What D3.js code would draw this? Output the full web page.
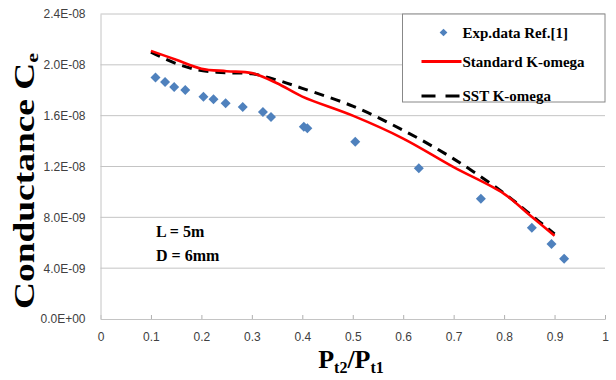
<!DOCTYPE html>
<html lang="en">
<head>
<meta charset="UTF-8">
<title>Conductance</title>
<script src="https://d3js.org/d3.v7.min.js"></script>
<style>
  body { margin: 0; background: #fff; }
  .tick text { font-family: "Liberation Sans", Arial, sans-serif; font-size: 12px; fill: #404040; }
  .lbl { font-family: "Liberation Serif", "Times New Roman", serif; font-weight: bold; fill: #000; }
</style>
</head>
<body>
<div id="chart"></div>
<script>
// experimental points
var expX = [0.109, 0.128, 0.146, 0.168, 0.204, 0.224, 0.248, 0.282, 0.322, 0.338, 0.403, 0.410, 0.505, 0.631, 0.754, 0.855, 0.894, 0.919];
var expY = [1.90e-8, 1.865e-8, 1.826e-8, 1.802e-8, 1.749e-8, 1.729e-8, 1.698e-8, 1.668e-8, 1.629e-8, 1.590e-8, 1.513e-8, 1.501e-8, 1.395e-8, 1.186e-8, 9.47e-9, 7.18e-9, 5.90e-9, 4.75e-9];

// simulation curves
var simX = [0.1, 0.15, 0.2, 0.25, 0.3, 0.35, 0.4, 0.5, 0.6, 0.7, 0.8, 0.85, 0.9];
var stdY = [2.11e-8, 2.04e-8, 1.97e-8, 1.95e-8, 1.935e-8, 1.855e-8, 1.75e-8, 1.60e-8, 1.42e-8, 1.195e-8, 9.85e-9, 8.2e-9, 6.55e-9];
var sstY = [2.10e-8, 2.01e-8, 1.955e-8, 1.938e-8, 1.93e-8, 1.88e-8, 1.815e-8, 1.675e-8, 1.485e-8, 1.26e-8, 9.9e-9, 8.3e-9, 6.7e-9];

var xTicks = [0, 0.1, 0.2, 0.3, 0.4, 0.5, 0.6, 0.7, 0.8, 0.9, 1];
var yTicks = [0, 4e-9, 8e-9, 1.2e-8, 1.6e-8, 2.0e-8, 2.4e-8];
var yTickLabels = ["0.0E+00", "4.0E-09", "8.0E-09", "1.2E-08", "1.6E-08", "2.0E-08", "2.4E-08"];

var legendNames = ["Exp.data Ref.[1]", "Standard K-omega", "SST K-omega"];

var W = 616, H = 380;
var margin = {top: 14, right: 11, bottom: 61, left: 100.5};
var width = W - margin.left - margin.right,
    height = H - margin.top - margin.bottom;

var svg = d3.select("#chart").append("svg")
    .attr("width", W).attr("height", H);
var g = svg.append("g")
    .attr("transform", `translate(${margin.left},${margin.top})`);

var x = d3.scaleLinear().domain([0, 1]).range([0, width]);
var y = d3.scaleLinear().domain([0, 2.4e-8]).range([height, 0]);

// gridlines
g.append("g").selectAll("line")
  .data(yTicks.slice(1))
  .join("line")
    .attr("x1", 0).attr("x2", width)
    .attr("y1", d => y(d)).attr("y2", d => y(d))
    .attr("stroke", "#c4c4c4").attr("stroke-width", 1);

// y axis
var yAxis = g.append("g")
  .call(d3.axisLeft(y).tickValues(yTicks).tickSize(0).tickPadding(15)
    .tickFormat((d, i) => yTickLabels[i]));
yAxis.select(".domain").attr("stroke", "#c4c4c4");

// x axis
var xAxis = g.append("g")
  .attr("transform", `translate(0,${height})`)
  .call(d3.axisBottom(x).tickValues(xTicks).tickSize(-4).tickPadding(13)
    .tickFormat(d3.format("")));
xAxis.select(".domain").attr("stroke", "#c4c4c4");
xAxis.selectAll(".tick line").attr("stroke", "#b0b0b0");
xAxis.select(".tick:first-of-type line").remove();

// curves
var line = d3.line()
  .x(d => x(d[0])).y(d => y(d[1]))
  .curve(d3.curveCatmullRom.alpha(0.5));

g.append("path")
  .datum(simX.map((v, i) => [v, sstY[i]]))
  .attr("fill", "none")
  .attr("stroke", "#000")
  .attr("stroke-width", 3)
  .attr("stroke-dasharray", "10,7")
  .attr("d", line);

g.append("path")
  .datum(simX.map((v, i) => [v, stdY[i]]))
  .attr("fill", "none")
  .attr("stroke", "#ff0000")
  .attr("stroke-width", 2.6)
  .attr("d", line);

// experimental diamonds
var diamond = d3.symbol().type(d3.symbolSquare).size(50);
g.append("g").selectAll("path")
  .data(expX.map((v, i) => [v, expY[i]]))
  .join("path")
    .attr("d", diamond)
    .attr("transform", d => `translate(${x(d[0])},${y(d[1])}) rotate(45)`)
    .attr("fill", "#4f81bd");

// annotation
g.append("text").attr("class", "lbl")
  .attr("x", x(0.11)).attr("y", y(6.45e-9))
  .style("font-size", "16px").text("L = 5m");
g.append("text").attr("class", "lbl")
  .attr("x", x(0.11)).attr("y", y(4.6e-9))
  .style("font-size", "16px").text("D = 6mm");

// legend
var lg = svg.append("g").attr("transform", "translate(402.5,14)");
lg.append("rect")
  .attr("width", 202.5).attr("height", 88)
  .attr("fill", "#fff").attr("stroke", "#888").attr("stroke-width", 1);

var rows = [18.5, 47.5, 82];
lg.append("path")
  .attr("d", d3.symbol().type(d3.symbolSquare).size(30))
  .attr("transform", `translate(41,${rows[0]}) rotate(45)`)
  .attr("fill", "#4f81bd");
lg.append("line")
  .attr("x1", 19).attr("x2", 59).attr("y1", rows[1]).attr("y2", rows[1])
  .attr("stroke", "#ff0000").attr("stroke-width", 3);
lg.append("line")
  .attr("x1", 19).attr("x2", 59).attr("y1", rows[2]).attr("y2", rows[2])
  .attr("stroke", "#000").attr("stroke-width", 3)
  .attr("stroke-dasharray", "14,10");

lg.selectAll("text.leg")
  .data(legendNames)
  .join("text")
    .attr("class", "lbl leg")
    .attr("x", 60)
    .attr("y", (d, i) => rows[i] + 5)
    .style("font-size", "15px")
    .text(d => d);

// axis titles
var yt = svg.append("text").attr("class", "lbl")
  .attr("transform", "translate(34,181) rotate(-90) scale(1.29,1)")
  .attr("text-anchor", "middle")
  .style("font-size", "29px");
yt.append("tspan").text("Conductance C");
yt.append("tspan").attr("dy", 4).style("font-size", "17px").text("e");

var xt = svg.append("text").attr("class", "lbl")
  .attr("x", 351).attr("y", 368)
  .attr("text-anchor", "middle")
  .style("font-size", "26px");
xt.append("tspan").text("P");
xt.append("tspan").attr("dy", 5).style("font-size", "16px").text("t2");
xt.append("tspan").attr("dy", -5).text("/P");
xt.append("tspan").attr("dy", 5).style("font-size", "16px").text("t1");
</script>
</body>
</html>
